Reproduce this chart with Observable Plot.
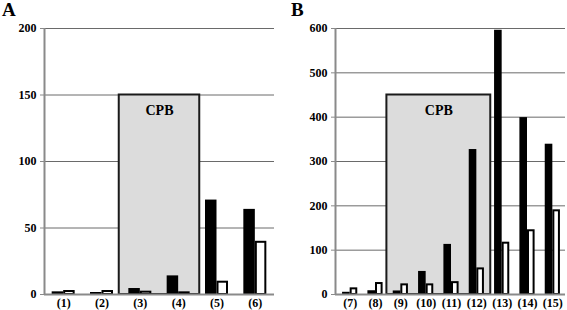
<!DOCTYPE html>
<html>
<head>
<meta charset="utf-8">
<script src="https://cdn.jsdelivr.net/npm/d3@7"></script>
<script src="https://cdn.jsdelivr.net/npm/@observablehq/plot@0.6"></script>
<style>
  html, body { margin: 0; padding: 0; background: #fff; }
  #wrap { position: relative; width: 567px; height: 310px; overflow: hidden; font-family: "Liberation Serif", serif; }
  .panel { position: absolute; top: 0; }
  .panel text { font-family: "Liberation Serif", serif; }
  .letter { position: absolute; top: 0px; line-height: 1; font-weight: bold; font-size: 19px; color: #000; font-family: "Liberation Serif", serif; }
</style>
</head>
<body>
<div id="wrap"></div>
<script>
// Panel A
const catsA = ["(1)", "(2)", "(3)", "(4)", "(5)", "(6)"];
const blackA = [2, 1.5, 4.5, 14, 71, 64];
const whiteA = [3, 3, 2.5, 2, 10, 40];
const cpbA = ["(3)", "(4)"];
const cpbTopA = 150;
const yTicksA = [0, 50, 100, 150, 200];

// Panel B
const catsB = ["(7)", "(8)", "(9)", "(10)", "(11)", "(12)", "(13)", "(14)", "(15)"];
const blackB = [5, 8.5, 8, 52, 113, 327, 596, 399, 339];
const whiteB = [15, 27, 24, 24, 29, 60, 118, 146, 191];
const cpbB = ["(9)", "(12)"];
const cpbTopB = 450;
const yTicksB = [0, 100, 200, 300, 400, 500, 600];

const boxLabel = "CPB";
const FONT = "Liberation Serif";

function panel({cats, black, white, cpb, cpbTop, yTicks, width, marginLeft, marginRight, axisDx}) {
  const data = cats.map((c, i) => ({c, i: i + 1, black: black[i], white: white[i]}));
  const idx = new Map(cats.map((c, i) => [c, i + 1]));
  const box = [{x1: idx.get(cpb[0]) - 0.55, x2: idx.get(cpb[1]) + 0.55, y: cpbTop}];
  const yMax = yTicks[yTicks.length - 1];
  return Plot.plot({
    width, height: 310,
    marginTop: 28, marginBottom: 16, marginLeft, marginRight,
    style: {fontFamily: FONT, fontSize: "12px", fontWeight: "bold", color: "#000", background: "transparent", overflow: "visible"},
    x: {domain: [0.5, cats.length + 0.5], axis: null},
    y: {domain: [0, yMax], axis: null},
    marks: [
      Plot.ruleY(yTicks.filter(t => t > 0), {stroke: "#6a6a6a", strokeWidth: 1, dx: axisDx, insetRight: axisDx}),
      Plot.rect(box, {x1: "x1", x2: "x2", y1: 0, y2: "y", fill: "#dcdcdc", stroke: "#1a1a1a", strokeWidth: 2}),
      Plot.text(box, {x: d => (d.x1 + d.x2) / 2, y: "y", text: () => boxLabel, dy: 16, fontSize: 14, fontWeight: "bold", fontFamily: FONT, fill: "#000"}),
      Plot.rect(data, {x1: d => d.i - 0.3, x2: d => d.i, y1: 0, y2: "black", fill: "#000"}),
      Plot.rect(data, {x1: d => d.i, x2: d => d.i + 0.3, y1: 0, y2: "white", fill: "#fff", stroke: "#000", strokeWidth: 2, insetLeft: 1, insetRight: 1, insetTop: 1}),
      Plot.ruleY([0], {stroke: "#8a8a8a", strokeWidth: 2, dx: axisDx, insetRight: axisDx}),
      Plot.ruleX([0.5], {stroke: "#8a8a8a", strokeWidth: 2, dx: axisDx}),
      Plot.axisY({ticks: yTicks, tickSize: 4, tickPadding: 4, stroke: "#8a8a8a", dx: axisDx, fontSize: 12, fontWeight: "bold", fontFamily: FONT}),
      Plot.axisX({ticks: data.map(d => d.i), tickFormat: i => cats[i - 1], tickSize: 0, tickPadding: 4, fontSize: 12, fontWeight: "bold", fontFamily: FONT})
    ]
  });
}

const wrap = document.getElementById("wrap");

const a = panel({cats: catsA, black: blackA, white: whiteA, cpb: cpbA, cpbTop: cpbTopA, yTicks: yTicksA, width: 283, marginLeft: 44, marginRight: 9, axisDx: 0});
a.classList.add("panel");
a.style.left = "0px";
wrap.appendChild(a);

const b = panel({cats: catsB, black: blackB, white: whiteB, cpb: cpbB, cpbTop: cpbTopB, yTicks: yTicksB, width: 284, marginLeft: 54, marginRight: 2, axisDx: -2});
b.classList.add("panel");
b.style.left = "283px";
wrap.appendChild(b);

const la = document.createElement("div");
la.className = "letter"; la.style.left = "2px"; la.textContent = "A";
wrap.appendChild(la);
const lb = document.createElement("div");
lb.className = "letter"; lb.style.left = "291px"; lb.textContent = "B";
wrap.appendChild(lb);
</script>
</body>
</html>
